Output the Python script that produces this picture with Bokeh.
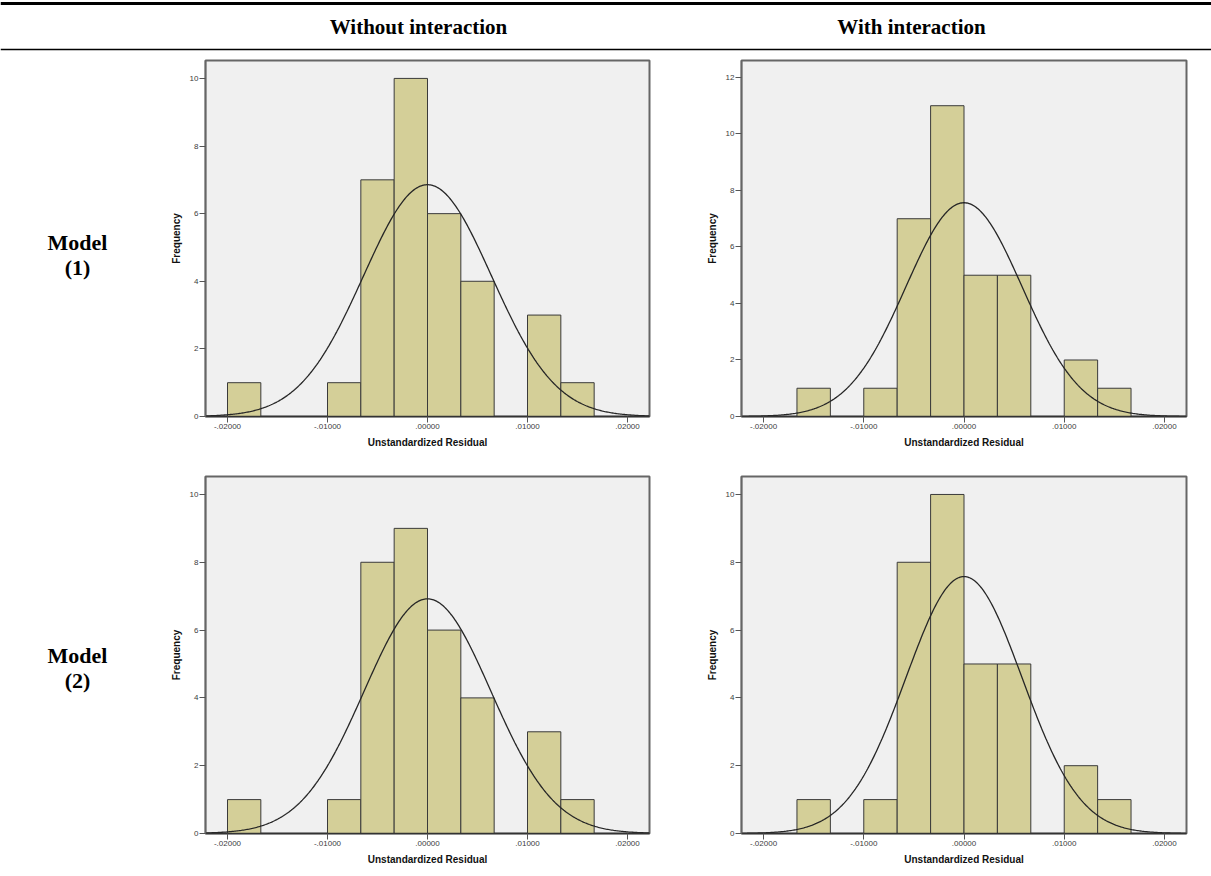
import numpy as np
from bokeh.plotting import figure
from bokeh.layouts import column, row
from bokeh.models import Range1d, FixedTicker, Span, ColumnDataSource
from bokeh.embed import file_html
from bokeh.resources import INLINE
from bokeh.core.properties import value

# ---------------- data ----------------
column_headers = ["Without interaction", "With interaction"]
row_label_top = ["Model", "Model"]
row_label_bottom = ["(1)", "(2)"]

bin_left = [-0.020000, -0.016667, -0.013333, -0.010000, -0.006667, -0.003333,
            0.000000, 0.003333, 0.006667, 0.010000, 0.013333, 0.016667]
bin_width = 0.003333

counts_m1_without = [1, 0, 0, 1, 7, 10, 6, 4, 0, 3, 1, 0]
counts_m1_with = [0, 1, 0, 1, 7, 11, 5, 5, 0, 2, 1, 0]
counts_m2_without = [1, 0, 0, 1, 8, 9, 6, 4, 0, 3, 1, 0]
counts_m2_with = [0, 1, 0, 1, 8, 10, 5, 5, 0, 2, 1, 0]

# fitted normal curve parameters (mean, std. dev.)
normal_m1_without = [0.0, 0.00640]
normal_m1_with = [0.0, 0.00580]
normal_m2_without = [0.0, 0.00634]
normal_m2_with = [0.0, 0.00579]

x_ticks = [-0.02, -0.01, 0.0, 0.01, 0.02]
x_tick_labels = ["-.02000", "-.01000", ".00000", ".01000", ".02000"]
y_ticks_10 = [0, 2, 4, 6, 8, 10]
y_ticks_12 = [0, 2, 4, 6, 8, 10, 12]

x_axis_title = "Unstandardized Residual"
y_axis_title = "Frequency"

X_LIM = 0.0222
BAR_FILL = "#D4CF98"
BAR_LINE = "#3a3a3a"
SERIF = "Liberation Serif"
SANS = "Liberation Sans"


def histogram(counts, normal, ymax, yticks, width, height, bl, br, bt, bb):
    p = figure(width=width, height=height, output_backend="svg", toolbar_location=None,
               x_range=Range1d(-X_LIM, X_LIM), y_range=Range1d(0, ymax),
               min_border_left=bl, min_border_right=br, min_border_top=bt, min_border_bottom=bb)
    p.background_fill_color = "#F0F0F0"
    p.border_fill_color = "white"
    p.outline_line_color = "#666666"
    p.outline_line_width = 2
    p.xgrid.visible = False
    p.ygrid.visible = False

    lefts = [l for l, c in zip(bin_left, counts) if c > 0]
    tops = [c for c in counts if c > 0]
    src = ColumnDataSource(dict(left=lefts, right=[l + bin_width for l in lefts], top=tops))
    p.quad(left="left", right="right", bottom=0, top="top", source=src,
           fill_color=BAR_FILL, line_color=BAR_LINE, line_width=1)

    n = sum(counts)
    mu, sd = normal
    xs = np.linspace(-X_LIM, X_LIM, 400)
    ys = n * bin_width * np.exp(-0.5 * ((xs - mu) / sd) ** 2) / (sd * np.sqrt(2 * np.pi))
    p.line(xs, ys, line_color="#262626", line_width=1.3)

    p.xaxis.ticker = FixedTicker(ticks=x_ticks)
    p.xaxis.major_label_overrides = {t: l for t, l in zip(x_ticks, x_tick_labels)}
    p.yaxis.ticker = FixedTicker(ticks=yticks)
    for ax in (p.xaxis[0], p.yaxis[0]):
        ax.major_tick_out = 6
        ax.major_tick_in = 0
        ax.minor_tick_out = 0
        ax.minor_tick_in = 0
        ax.major_tick_line_color = "#555555"
        ax.major_label_text_font = SANS
        ax.major_label_text_font_size = "8px"
        ax.major_label_text_color = "#3c3c3c"
        ax.major_label_standoff = 1
        ax.axis_label_text_font = SANS
        ax.axis_label_text_font_style = "bold"
        ax.axis_label_text_font_size = "10px"
        ax.axis_label_text_color = "#111111"
        ax.axis_label_standoff = 5
    p.xaxis.axis_line_color = "#333333"
    p.xaxis.axis_line_width = 1.5
    p.yaxis.axis_line_color = "#666666"
    p.yaxis.axis_line_width = 1.5
    p.xaxis.axis_label = x_axis_title
    p.yaxis.axis_label = y_axis_title
    return p


def blank(width, height):
    p = figure(width=width, height=height, output_backend="svg", toolbar_location=None,
               x_range=Range1d(0, width), y_range=Range1d(height, 0),
               min_border_left=0, min_border_right=0, min_border_top=0, min_border_bottom=0)
    p.axis.visible = False
    p.xgrid.visible = False
    p.ygrid.visible = False
    p.outline_line_color = None
    p.background_fill_color = "white"
    p.border_fill_color = "white"
    return p


# header
header = blank(1211, 56)
header.add_layout(Span(location=3, dimension="width", line_color="black", line_width=3))
header.add_layout(Span(location=49, dimension="width", line_color="black", line_width=1.5))
header.text(x=[418, 911], y=[26, 26], text=column_headers, text_font=value(SERIF),
            text_font_style="bold", text_font_size="21px", text_align="center",
            text_baseline="middle", text_color="black")


def label_fig(height, idx, y_model, y_num):
    p = blank(150, height)
    p.text(x=[77, 77], y=[y_model, y_num], text=[row_label_top[idx], row_label_bottom[idx]],
           text_font=value(SERIF), text_font_style="bold", text_font_size="22px",
           text_align="center", text_baseline="middle", text_color="black")
    return p


lab1 = label_fig(400, 0, 204, 233)
lab2 = label_fig(420, 1, 211, 240)

h11 = histogram(counts_m1_without, normal_m1_without, 10.53, y_ticks_10, 530, 400, 55, 31, 4, 40)
h12 = histogram(counts_m1_with, normal_m1_with, 12.6, y_ticks_12, 531, 400, 61, 25, 4, 40)
h21 = histogram(counts_m2_without, normal_m2_without, 10.53, y_ticks_10, 530, 420, 55, 31, 20, 43)
h22 = histogram(counts_m2_with, normal_m2_with, 10.53, y_ticks_10, 531, 420, 61, 25, 20, 43)

layout = column(header, row(lab1, h11, h12), row(lab2, h21, h22))

open("out.html", "w").write(file_html(layout, INLINE))
